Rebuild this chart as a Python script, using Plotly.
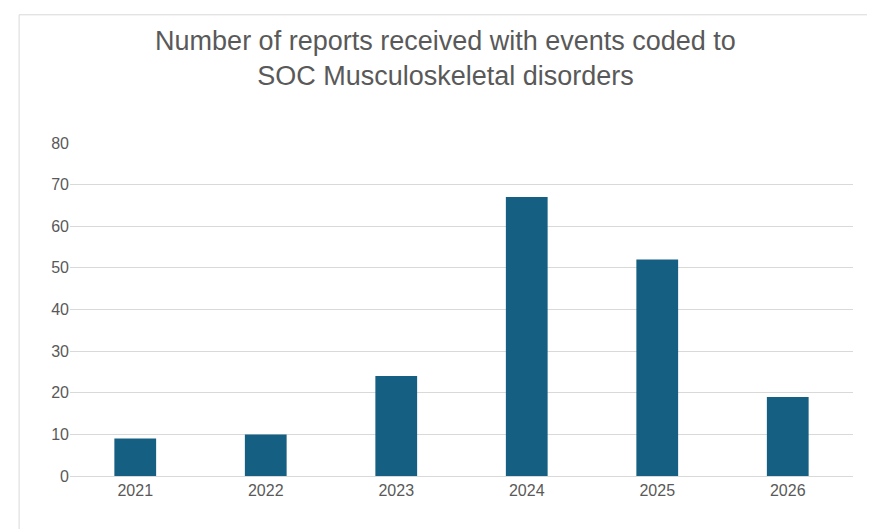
import plotly.graph_objects as go

years = ["2021", "2022", "2023", "2024", "2025", "2026"]
reports = [9, 10, 24, 67, 52, 19]
y_ticks = [0, 10, 20, 30, 40, 50, 60, 70, 80]

fig = go.Figure(go.Bar(x=years, y=reports, marker_color="#156082", marker_line_width=0))
fig.update_layout(
    width=875, height=529,
    margin=dict(l=62, r=30, t=135, b=61),
    paper_bgcolor="white", plot_bgcolor="white",
    bargap=0.68,
    font=dict(family="Liberation Sans, Arial, sans-serif", color="#595959", size=16),
    title=dict(text="Number of reports received with events coded to<br>SOC Musculoskeletal disorders",
               x=0.5, xanchor="center", y=0.92, yanchor="middle",
               font=dict(size=27, color="#595959")),
    showlegend=False,
    shapes=[dict(type="rect", xref="paper", yref="paper", x0=-0.065, x1=1.028, y0=-0.175, y1=1.385,
                 line=dict(color="#D9D9D9", width=1))],
)
fig.update_yaxes(range=[0, 80], tickvals=y_ticks, gridcolor="#D9D9D9", zeroline=False,
                 showline=False, ticks="", tickfont=dict(size=16, color="#595959"))
fig.update_xaxes(showline=True, linecolor="#D9D9D9", ticks="", tickfont=dict(size=16, color="#595959"))
fig.write_html("out.html")
